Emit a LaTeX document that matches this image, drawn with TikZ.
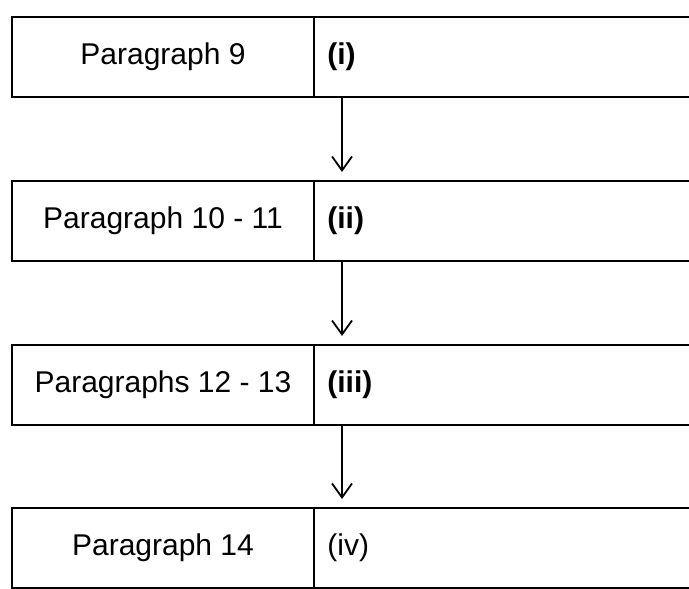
\documentclass[tikz,border=0pt]{standalone}
\usepackage{fontspec}
\setmainfont{Liberation Sans}
\usetikzlibrary{arrows.meta}
\begin{document}
\begin{tikzpicture}[x=0.5pt,y=-0.5pt,
  every node/.style={font=\fontsize{15}{18}\selectfont},
  leftbox/.style={draw, line width=1pt, minimum width=151pt, minimum height=40pt, inner sep=0pt},
  rightbox/.style={draw, line width=1pt, minimum width=193pt, minimum height=40pt, inner sep=0pt},
  lab/.style={anchor=west, inner sep=0pt},
  arr/.style={line width=0.9pt, -{Straight Barb[length=7pt,width=10pt,line width=0.9pt]}, shorten >=4pt}]
\useasboundingbox (0,0) rectangle (689,588);
\clip (0,0) rectangle (689,588);
\fill[white] (0,0) rectangle (689,588);
% rows
\node[leftbox]  (l1) at (163,57) {Paragraph 9};
\node[rightbox] (r1) at (507,57) {};
\node[lab] (t1) at ([xshift=7pt]r1.west) {\textbf{(i)}};
\node[leftbox]  (l2) at (163,221) {Paragraph 10 - 11};
\node[rightbox] (r2) at (507,221) {};
\node[lab] (t2) at ([xshift=7pt]r2.west) {\textbf{(ii)}};
\node[leftbox]  (l3) at (163,385) {Paragraphs 12 - 13};
\node[rightbox] (r3) at (507,385) {};
\node[lab] (t3) at ([xshift=7pt]r3.west) {\textbf{(iii)}};
\node[leftbox]  (l4) at (163,548) {Paragraph 14};
\node[rightbox] (r4) at (507,548) {};
\node[lab] (t4) at ([xshift=7pt]r4.west) {(iv)};
% arrows
\draw[arr] ([xshift=14.5pt]r1.south west) -- ([xshift=14.5pt]r2.north west);
\draw[arr] ([xshift=14.5pt]r2.south west) -- ([xshift=14.5pt]r3.north west);
\draw[arr] ([xshift=14.5pt]r3.south west) -- ([xshift=14.5pt]r4.north west);
\end{tikzpicture}
\end{document}
